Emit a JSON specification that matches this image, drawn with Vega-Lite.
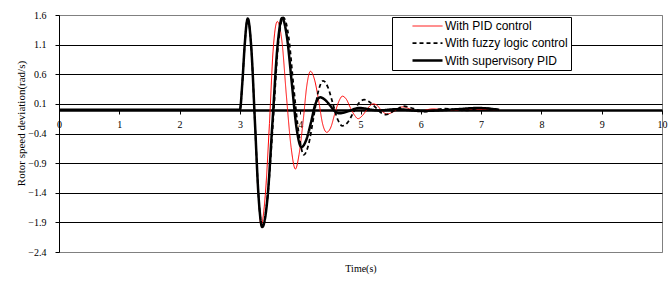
{
  "$schema": "https://vega.github.io/schema/vega-lite/v6.json",
  "width": 603,
  "height": 237,
  "autosize": {"type": "none"},
  "padding": {"left": 59, "top": 15, "right": 9, "bottom": 33},
  "background": "white",
  "config": {
    "view": {"stroke": "#808080", "strokeWidth": 1},
    "axis": {"labelFont": "Liberation Serif", "titleFont": "Liberation Serif", "labelColor": "black", "titleColor": "black", "titleFontWeight": "normal"}
  },
  "data": {"values": [
    {"t": 0, "v": 0, "s": "With PID control"},
    {"t": 3.0, "v": 0, "s": "With PID control"},
    {"t": 3.04, "v": 0.45, "s": "With PID control"},
    {"t": 3.08, "v": 1.1, "s": "With PID control"},
    {"t": 3.11, "v": 1.45, "s": "With PID control"},
    {"t": 3.13, "v": 1.54, "s": "With PID control"},
    {"t": 3.19, "v": 1.03, "s": "With PID control"},
    {"t": 3.25, "v": -0.22, "s": "With PID control"},
    {"t": 3.31, "v": -1.47, "s": "With PID control"},
    {"t": 3.35, "v": -1.95, "s": "With PID control"},
    {"t": 3.42, "v": -1.45, "s": "With PID control"},
    {"t": 3.49, "v": -0.23, "s": "With PID control"},
    {"t": 3.55, "v": 0.99, "s": "With PID control"},
    {"t": 3.62, "v": 1.49, "s": "With PID control"},
    {"t": 3.70, "v": 1.13, "s": "With PID control"},
    {"t": 3.77, "v": 0.25, "s": "With PID control"},
    {"t": 3.85, "v": -0.64, "s": "With PID control"},
    {"t": 3.92, "v": -1.0, "s": "With PID control"},
    {"t": 3.98, "v": -0.76, "s": "With PID control"},
    {"t": 4.05, "v": -0.18, "s": "With PID control"},
    {"t": 4.11, "v": 0.41, "s": "With PID control"},
    {"t": 4.17, "v": 0.65, "s": "With PID control"},
    {"t": 4.24, "v": 0.50, "s": "With PID control"},
    {"t": 4.31, "v": 0.13, "s": "With PID control"},
    {"t": 4.37, "v": -0.23, "s": "With PID control"},
    {"t": 4.44, "v": -0.38, "s": "With PID control"},
    {"t": 4.51, "v": -0.29, "s": "With PID control"},
    {"t": 4.57, "v": -0.08, "s": "With PID control"},
    {"t": 4.64, "v": 0.14, "s": "With PID control"},
    {"t": 4.70, "v": 0.23, "s": "With PID control"},
    {"t": 4.77, "v": 0.17, "s": "With PID control"},
    {"t": 4.83, "v": 0.04, "s": "With PID control"},
    {"t": 4.90, "v": -0.09, "s": "With PID control"},
    {"t": 4.96, "v": -0.15, "s": "With PID control"},
    {"t": 5.02, "v": -0.11, "s": "With PID control"},
    {"t": 5.09, "v": -0.02, "s": "With PID control"},
    {"t": 5.15, "v": 0.06, "s": "With PID control"},
    {"t": 5.21, "v": 0.10, "s": "With PID control"},
    {"t": 5.27, "v": 0.08, "s": "With PID control"},
    {"t": 5.33, "v": 0.01, "s": "With PID control"},
    {"t": 5.39, "v": -0.05, "s": "With PID control"},
    {"t": 5.45, "v": -0.07, "s": "With PID control"},
    {"t": 5.51, "v": -0.05, "s": "With PID control"},
    {"t": 5.58, "v": -0.01, "s": "With PID control"},
    {"t": 5.64, "v": 0.03, "s": "With PID control"},
    {"t": 5.70, "v": 0.05, "s": "With PID control"},
    {"t": 5.83, "v": 0.01, "s": "With PID control"},
    {"t": 5.95, "v": -0.03, "s": "With PID control"},
    {"t": 6.2, "v": 0.015, "s": "With PID control"},
    {"t": 6.5, "v": -0.01, "s": "With PID control"},
    {"t": 6.8, "v": 0.01, "s": "With PID control"},
    {"t": 7.3, "v": 0, "s": "With PID control"},

    {"t": 0, "v": 0, "s": "With fuzzy logic control"},
    {"t": 3.0, "v": 0, "s": "With fuzzy logic control"},
    {"t": 3.04, "v": 0.45, "s": "With fuzzy logic control"},
    {"t": 3.08, "v": 1.1, "s": "With fuzzy logic control"},
    {"t": 3.11, "v": 1.45, "s": "With fuzzy logic control"},
    {"t": 3.13, "v": 1.54, "s": "With fuzzy logic control"},
    {"t": 3.19, "v": 1.03, "s": "With fuzzy logic control"},
    {"t": 3.25, "v": -0.22, "s": "With fuzzy logic control"},
    {"t": 3.31, "v": -1.47, "s": "With fuzzy logic control"},
    {"t": 3.37, "v": -1.98, "s": "With fuzzy logic control"},
    {"t": 3.46, "v": -1.46, "s": "With fuzzy logic control"},
    {"t": 3.55, "v": -0.21, "s": "With fuzzy logic control"},
    {"t": 3.63, "v": 1.04, "s": "With fuzzy logic control"},
    {"t": 3.72, "v": 1.56, "s": "With fuzzy logic control"},
    {"t": 3.81, "v": 1.22, "s": "With fuzzy logic control"},
    {"t": 3.89, "v": 0.40, "s": "With fuzzy logic control"},
    {"t": 3.98, "v": -0.42, "s": "With fuzzy logic control"},
    {"t": 4.06, "v": -0.76, "s": "With fuzzy logic control"},
    {"t": 4.14, "v": -0.58, "s": "With fuzzy logic control"},
    {"t": 4.22, "v": -0.14, "s": "With fuzzy logic control"},
    {"t": 4.30, "v": 0.31, "s": "With fuzzy logic control"},
    {"t": 4.38, "v": 0.49, "s": "With fuzzy logic control"},
    {"t": 4.46, "v": 0.38, "s": "With fuzzy logic control"},
    {"t": 4.54, "v": 0.11, "s": "With fuzzy logic control"},
    {"t": 4.62, "v": -0.16, "s": "With fuzzy logic control"},
    {"t": 4.70, "v": -0.27, "s": "With fuzzy logic control"},
    {"t": 4.79, "v": -0.21, "s": "With fuzzy logic control"},
    {"t": 4.88, "v": -0.05, "s": "With fuzzy logic control"},
    {"t": 4.97, "v": 0.11, "s": "With fuzzy logic control"},
    {"t": 5.06, "v": 0.17, "s": "With fuzzy logic control"},
    {"t": 5.15, "v": 0.13, "s": "With fuzzy logic control"},
    {"t": 5.24, "v": 0.05, "s": "With fuzzy logic control"},
    {"t": 5.33, "v": -0.04, "s": "With fuzzy logic control"},
    {"t": 5.42, "v": -0.08, "s": "With fuzzy logic control"},
    {"t": 5.57, "v": -0.01, "s": "With fuzzy logic control"},
    {"t": 5.72, "v": 0.06, "s": "With fuzzy logic control"},
    {"t": 5.88, "v": 0.02, "s": "With fuzzy logic control"},
    {"t": 6.05, "v": -0.03, "s": "With fuzzy logic control"},
    {"t": 6.4, "v": 0.02, "s": "With fuzzy logic control"},
    {"t": 6.75, "v": -0.01, "s": "With fuzzy logic control"},
    {"t": 7.0, "v": 0.03, "s": "With fuzzy logic control"},
    {"t": 7.3, "v": 0, "s": "With fuzzy logic control"},

    {"t": 0, "v": 0, "s": "With supervisory PID"},
    {"t": 3.0, "v": 0, "s": "With supervisory PID"},
    {"t": 3.04, "v": 0.45, "s": "With supervisory PID"},
    {"t": 3.08, "v": 1.1, "s": "With supervisory PID"},
    {"t": 3.11, "v": 1.45, "s": "With supervisory PID"},
    {"t": 3.13, "v": 1.54, "s": "With supervisory PID"},
    {"t": 3.19, "v": 1.03, "s": "With supervisory PID"},
    {"t": 3.25, "v": -0.22, "s": "With supervisory PID"},
    {"t": 3.31, "v": -1.47, "s": "With supervisory PID"},
    {"t": 3.37, "v": -1.98, "s": "With supervisory PID"},
    {"t": 3.46, "v": -1.46, "s": "With supervisory PID"},
    {"t": 3.54, "v": -0.21, "s": "With supervisory PID"},
    {"t": 3.62, "v": 1.03, "s": "With supervisory PID"},
    {"t": 3.70, "v": 1.55, "s": "With supervisory PID"},
    {"t": 3.78, "v": 1.23, "s": "With supervisory PID"},
    {"t": 3.86, "v": 0.46, "s": "With supervisory PID"},
    {"t": 3.94, "v": -0.31, "s": "With supervisory PID"},
    {"t": 4.02, "v": -0.63, "s": "With supervisory PID"},
    {"t": 4.10, "v": -0.51, "s": "With supervisory PID"},
    {"t": 4.18, "v": -0.21, "s": "With supervisory PID"},
    {"t": 4.25, "v": 0.09, "s": "With supervisory PID"},
    {"t": 4.33, "v": 0.21, "s": "With supervisory PID"},
    {"t": 4.41, "v": 0.17, "s": "With supervisory PID"},
    {"t": 4.49, "v": 0.08, "s": "With supervisory PID"},
    {"t": 4.57, "v": -0.02, "s": "With supervisory PID"},
    {"t": 4.65, "v": -0.06, "s": "With supervisory PID"},
    {"t": 4.81, "v": -0.02, "s": "With supervisory PID"},
    {"t": 4.97, "v": 0.03, "s": "With supervisory PID"},
    {"t": 5.3, "v": -0.01, "s": "With supervisory PID"},
    {"t": 5.6, "v": 0.01, "s": "With supervisory PID"},
    {"t": 6.0, "v": -0.02, "s": "With supervisory PID"},
    {"t": 6.3, "v": -0.01, "s": "With supervisory PID"},
    {"t": 6.6, "v": 0.01, "s": "With supervisory PID"},
    {"t": 6.95, "v": 0.03, "s": "With supervisory PID"},
    {"t": 7.3, "v": 0, "s": "With supervisory PID"}
  ]},
  "mark": {"type": "line", "interpolate": "monotone", "clip": true},
  "encoding": {
    "x": {
      "field": "t", "type": "quantitative",
      "scale": {"domain": [0, 10], "nice": false},
      "axis": {
        "offset": -142, "values": [0,1,2,3,4,5,6,7,8,9,10], "format": "d",
        "grid": false, "domainColor": "black", "domainWidth": 2.5,
        "tickColor": "black", "tickSize": 4, "tickWidth": 1,
        "labelFontSize": 10, "labelPadding": 5, "labelFlush": false, "labelOverlap": false,
        "title": "Time(s)", "titleFontSize": 10, "titleY": 158, "titleBaseline": "middle"
      }
    },
    "y": {
      "field": "v", "type": "quantitative",
      "scale": {"domain": [-2.4, 1.6], "nice": false, "zero": false},
      "axis": {
        "values": [1.6, 1.1, 0.6, 0.1, -0.4, -0.9, -1.4, -1.9, -2.4], "format": ".1f",
        "grid": true,
        "gridColor": {"condition": {"test": "datum.value === 1.6 || datum.value === -2.4", "value": "#808080"}, "value": "black"},
        "gridWidth": 1, "gridOpacity": 1,
        "domainColor": "black", "domainWidth": 1,
        "tickColor": "black", "tickSize": 4, "tickWidth": 1,
        "labelFontSize": 10, "labelPadding": 9, "labelOverlap": false, "labelFlush": false,
        "title": "Rotor speed deviation(rad/s)", "titleFontSize": 11,
        "titleX": -38, "titleY": 108, "titleBaseline": "middle", "titleAlign": "center", "titleAngle": -90
      }
    },
    "color": {
      "field": "s", "type": "nominal",
      "scale": {"domain": ["With PID control", "With fuzzy logic control", "With supervisory PID"], "range": ["#ff0000", "#000000", "#000000"]},
      "legend": {
        "orient": "none", "legendX": 333, "legendY": 2, "title": null,
        "symbolType": "M-3,0H3", "symbolSize": 100,
        "symbolOffset": 26, "labelOffset": 11,
        "labelFont": "Liberation Sans", "labelFontSize": 12, "labelColor": "black",
        "fillColor": "white", "strokeColor": "black", "padding": 3, "rowPadding": 5
      }
    },
    "strokeDash": {
      "field": "s", "type": "nominal",
      "scale": {"domain": ["With PID control", "With fuzzy logic control", "With supervisory PID"], "range": [[1, 0], [4, 3], [1, 0]]},
      "legend": {
        "orient": "none", "legendX": 333, "legendY": 2, "title": null,
        "symbolType": "M-3,0H3", "symbolSize": 100,
        "symbolOffset": 26, "labelOffset": 11,
        "labelFont": "Liberation Sans", "labelFontSize": 12, "labelColor": "black",
        "fillColor": "white", "strokeColor": "black", "padding": 3, "rowPadding": 5
      }
    },
    "strokeWidth": {
      "field": "s", "type": "nominal",
      "scale": {"domain": ["With PID control", "With fuzzy logic control", "With supervisory PID"], "range": [1, 2.5, 2]},
      "legend": {
        "orient": "none", "legendX": 333, "legendY": 2, "title": null,
        "symbolType": "M-3,0H3", "symbolSize": 100,
        "symbolOffset": 26, "labelOffset": 11,
        "labelFont": "Liberation Sans", "labelFontSize": 12, "labelColor": "black",
        "fillColor": "white", "strokeColor": "black", "padding": 3, "rowPadding": 5
      }
    }
  }
}
